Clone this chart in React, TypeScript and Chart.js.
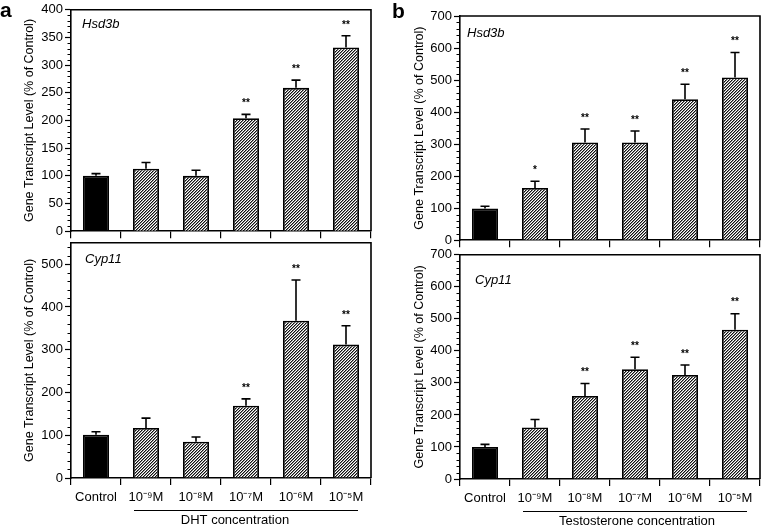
import React, { useEffect, useRef } from 'react';
import { Chart, registerables } from 'chart.js';

Chart.register(...registerables);

const FONT = 'Liberation Sans, Arial, Helvetica, sans-serif';
Chart.defaults.font.family = FONT;
Chart.defaults.color = '#000';

// ---------- data ----------
const categories = ['Control', '10⁻⁹M', '10⁻⁸M', '10⁻⁷M', '10⁻⁶M', '10⁻⁵M'];

const dhtHsd3bMean = [100, 113, 100, 204, 259, 332];
const dhtHsd3bErr = [4, 11, 10, 7, 14, 21];
const dhtHsd3bSig = ['', '', '', '**', '**', '**'];

const dhtCyp11Mean = [101, 117, 85, 169, 368, 312];
const dhtCyp11Err = [7, 23, 11, 16, 95, 44];
const dhtCyp11Sig = ['', '', '', '**', '**', '**'];

const tesHsd3bMean = [99, 163, 305, 305, 440, 508];
const tesHsd3bErr = [7, 21, 42, 36, 47, 78];
const tesHsd3bSig = ['', '*', '**', '**', '**', '**'];

const tesCyp11Mean = [100, 161, 259, 343, 325, 466];
const tesCyp11Err = [8, 25, 39, 37, 31, 50];
const tesCyp11Sig = ['', '', '**', '**', '**', '**'];

// y axis ranges: [max, major step, minor step]
const dhtHsd3bAxis = [400, 50, 10];
const dhtCyp11Axis = [550, 100, 20];
const tesHsd3bAxis = [700, 100, 20];
const tesCyp11Axis = [700, 100, 20];

const yTitle = 'Gene Transcript Level (% of Control)';
const dhtGroupTitle = 'DHT concentration';
const tesGroupTitle = 'Testosterone concentration';

type Panel = {
  id: string;
  left: number; top: number; width: number; height: number;
  padTop: number; padRight: number; yWidth: number; xHeight: number;
  means: number[]; errs: number[]; sig: string[]; axis: number[];
  gene: string; geneDx: number; geneDy: number;
  letter?: string; letterX?: number; letterY?: number;
  showX: boolean; groupTitle?: string; groupCenter?: number;
  titlePad: number;
};

const panels: Panel[] = [
  {
    id: 'a1', left: 0, top: 0, width: 380, height: 241, padTop: 7, padRight: 9, yWidth: 71, xHeight: 8,
    means: dhtHsd3bMean, errs: dhtHsd3bErr, sig: dhtHsd3bSig, axis: dhtHsd3bAxis,
    gene: 'Hsd3b', geneDx: 11, geneDy: 18, letter: 'a', letterX: 0, letterY: 17,
    showX: false, titlePad: 22.5,
  },
  {
    id: 'a2', left: 0, top: 233, width: 380, height: 292, padTop: 8, padRight: 9, yWidth: 71, xHeight: 47,
    means: dhtCyp11Mean, errs: dhtCyp11Err, sig: dhtCyp11Sig, axis: dhtCyp11Axis,
    gene: 'Cyp11', geneDx: 14, geneDy: 20,
    showX: true, groupTitle: dhtGroupTitle, groupCenter: 2.78, titlePad: 22.5,
  },
  {
    id: 'b1', left: 380, top: 0, width: 381, height: 250, padTop: 16, padRight: 1, yWidth: 80, xHeight: 8,
    means: tesHsd3bMean, errs: tesHsd3bErr, sig: tesHsd3bSig, axis: tesHsd3bAxis,
    gene: 'Hsd3b', geneDx: 7, geneDy: 21, letter: 'b', letterX: 12, letterY: 18,
    showX: false, titlePad: 32.5,
  },
  {
    id: 'b2', left: 380, top: 245, width: 381, height: 280, padTop: 8, padRight: 1, yWidth: 80, xHeight: 46,
    means: tesCyp11Mean, errs: tesCyp11Err, sig: tesCyp11Sig, axis: tesCyp11Axis,
    gene: 'Cyp11', geneDx: 15, geneDy: 29.5,
    showX: true, groupTitle: tesGroupTitle, groupCenter: 3.04, titlePad: 32.5,
  },
];

function makeHatch(): CanvasPattern | string {
  const c = document.createElement('canvas');
  c.width = 3; c.height = 3;
  const g = c.getContext('2d');
  if (!g) return '#888';
  g.fillStyle = '#fff';
  g.fillRect(0, 0, 3, 3);
  for (let i = 0; i < 3; i++) {
    g.fillStyle = '#111';
    g.fillRect(i, 2 - i, 1, 1);
    g.fillStyle = '#8a8a8a';
    g.fillRect((i + 1) % 3, 2 - i, 1, 1);
  }
  return g.createPattern(c, 'repeat') || '#888';
}

function decorPlugin(p: Panel) {
  return {
    id: 'decor_' + p.id,
    afterDatasetsDraw(chart: any) {
      const ctx = chart.ctx as CanvasRenderingContext2D;
      const y = chart.scales.y;
      const meta = chart.getDatasetMeta(0);
      ctx.save();
      ctx.strokeStyle = '#000';
      ctx.fillStyle = '#000';
      ctx.lineWidth = 1.6;
      meta.data.forEach((el: any, i: number) => {
        const top = y.getPixelForValue(p.means[i] + p.errs[i]);
        const x = el.x;
        ctx.beginPath();
        ctx.moveTo(x, el.y);
        ctx.lineTo(x, top);
        ctx.moveTo(x - 4.5, top);
        ctx.lineTo(x + 4.5, top);
        ctx.stroke();
        if (p.sig[i]) {
          ctx.font = 'bold 10px ' + FONT;
          ctx.textAlign = 'center';
          ctx.textBaseline = 'middle';
          ctx.fillText(p.sig[i], x, top - 11);
        }
      });
      ctx.restore();
    },
    afterDraw(chart: any) {
      const ctx = chart.ctx as CanvasRenderingContext2D;
      const a = chart.chartArea;
      const y = chart.scales.y;
      const x = chart.scales.x;
      ctx.save();
      ctx.strokeStyle = '#000';
      ctx.fillStyle = '#000';
      // box top + right
      ctx.lineWidth = 1.6;
      ctx.beginPath();
      ctx.moveTo(a.left, a.top);
      ctx.lineTo(a.right, a.top);
      ctx.lineTo(a.right, a.bottom);
      ctx.stroke();
      // minor ticks
      const [max, major, minor] = p.axis;
      ctx.lineWidth = 1;
      ctx.beginPath();
      for (let v = minor; v <= max; v += minor) {
        if (v % major === 0) continue;
        const py = Math.round(y.getPixelForValue(v)) + 0.5;
        ctx.moveTo(a.left - 3.5, py);
        ctx.lineTo(a.left, py);
      }
      ctx.stroke();
      // gene label
      ctx.font = 'italic 13px ' + FONT;
      ctx.textAlign = 'left';
      ctx.textBaseline = 'alphabetic';
      ctx.fillText(p.gene, a.left + p.geneDx, a.top + p.geneDy);
      // panel letter
      if (p.letter) {
        ctx.font = 'bold 21px ' + FONT;
        ctx.fillText(p.letter, p.letterX || 0, p.letterY || 0);
      }
      // group line and title
      if (p.groupTitle) {
        const x1 = x.getPixelForValue(1) - 12;
        const x5 = x.getPixelForValue(categories.length - 1) + 12;
        ctx.lineWidth = 1;
        ctx.beginPath();
        ctx.moveTo(x1, a.bottom + 32.5);
        ctx.lineTo(x5, a.bottom + 32.5);
        ctx.stroke();
        ctx.font = '13px ' + FONT;
        ctx.textAlign = 'center';
        ctx.fillText(p.groupTitle, x.getPixelForValue(p.groupCenter || 3), a.bottom + 45.5);
      }
      ctx.restore();
    },
  };
}

function PanelChart({ p }: { p: Panel }) {
  const ref = useRef<HTMLCanvasElement | null>(null);
  useEffect(() => {
    if (!ref.current) return;
    const hatch = makeHatch();
    const colors = p.means.map((_, i) => (i === 0 ? '#000' : hatch));
    const [max, major] = p.axis;
    const chart = new Chart(ref.current, {
      type: 'bar',
      data: {
        labels: categories,
        datasets: [
          {
            data: p.means,
            backgroundColor: colors as any,
            borderColor: '#000',
            borderWidth: 1.8,
            categoryPercentage: 1,
            barPercentage: 0.52,
          },
        ],
      },
      options: {
        responsive: false,
        animation: false,
        devicePixelRatio: 1,
        layout: { padding: { top: p.padTop, right: p.padRight, left: 0, bottom: 0 } },
        plugins: { legend: { display: false }, tooltip: { enabled: false } },
        scales: {
          x: {
            type: 'category',
            offset: true,
            z: 1,
            grid: {
              offset: true,
              drawOnChartArea: false,
              tickLength: 7,
              color: '#000',
              tickColor: '#000',
              tickWidth: 1.2,
              lineWidth: 1.2,
            },
            border: { color: '#000', width: 1.6 },
            ticks: {
              display: p.showX,
              autoSkip: false,
              maxRotation: 0,
              padding: 5,
              color: '#000',
              font: { size: 13, family: FONT },
            },
            afterFit: (s: any) => { s.height = p.xHeight; },
          },
          y: {
            type: 'linear',
            min: 0,
            max: max,
            z: 1,
            grid: {
              drawOnChartArea: false,
              tickLength: 6,
              color: '#000',
              tickColor: '#000',
              tickWidth: 1.2,
            },
            border: { color: '#000', width: 1.6 },
            ticks: {
              stepSize: major,
              padding: 2,
              color: '#000',
              font: { size: 13, family: FONT },
            },
            afterBuildTicks: (s: any) => {
              s.ticks = s.ticks.filter((t: any) => t.value % major === 0);
            },
            title: {
              display: true,
              text: yTitle,
              color: '#000',
              font: { size: 12.5, family: FONT },
              padding: { top: p.titlePad, bottom: 0 },
            },
            afterFit: (s: any) => { s.width = p.yWidth; },
          },
        },
      },
      plugins: [decorPlugin(p) as any],
    });
    return () => chart.destroy();
  }, [p]);
  return (
    <canvas
      ref={ref}
      width={p.width}
      height={p.height}
      style={{ position: 'absolute', left: p.left, top: p.top, width: p.width, height: p.height }}
    />
  );
}

export default function App() {
  return (
    <div style={{ position: 'absolute', left: 0, top: 0, width: 761, height: 525, background: '#fff', overflow: 'hidden' }}>
      {panels.map((p) => (
        <PanelChart key={p.id} p={p} />
      ))}
    </div>
  );
}
